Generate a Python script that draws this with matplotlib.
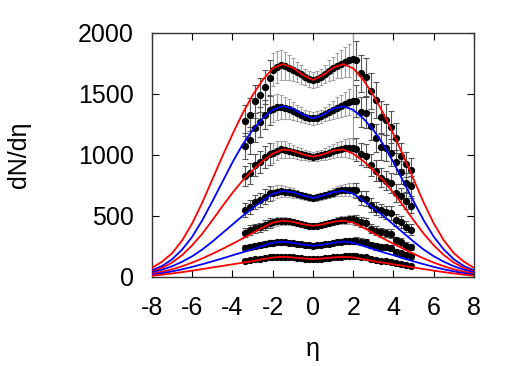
import numpy as np
import matplotlib
matplotlib.use("Agg")
import matplotlib.pyplot as plt

plt.rcParams["font.family"] = ["Liberation Sans", "DejaVu Sans"]
plt.rcParams["axes.unicode_minus"] = False

# model curves, eta -8..8 in steps of 0.5
eta_curve = [-8.0, -7.5, -7.0, -6.5, -6.0, -5.5, -5.0, -4.5, -4.0, -3.5, -3.0, -2.5, -2.0, -1.5, -1.0, -0.5,
             0.0, 0.5, 1.0, 1.5, 2.0, 2.5, 3.0, 3.5, 4.0, 4.5, 5.0, 5.5, 6.0, 6.5, 7.0, 7.5, 8.0]
curve_0_5 = [75, 125, 195, 300, 440, 610, 800, 990, 1170, 1340, 1490, 1615, 1710, 1745, 1715, 1655,
             1615, 1655, 1715, 1745, 1710, 1615, 1490, 1340, 1170, 990, 800, 610, 440, 300, 195, 125, 75]
curve_5_10 = [55, 90, 145, 225, 330, 465, 620, 780, 940, 1085, 1205, 1300, 1370, 1400, 1380, 1330,
              1300, 1330, 1380, 1400, 1370, 1300, 1205, 1085, 940, 780, 620, 465, 330, 225, 145, 90, 55]
curve_10_20 = [45, 75, 118, 180, 260, 355, 465, 580, 690, 790, 875, 950, 1010, 1045, 1035, 1005,
               985, 1005, 1035, 1045, 1010, 950, 875, 790, 690, 580, 465, 355, 260, 180, 118, 75, 45]
curve_20_30 = [38, 60, 88, 125, 170, 225, 290, 360, 430, 500, 565, 625, 682, 705, 695, 668,
               648, 668, 695, 705, 682, 625, 565, 500, 430, 360, 290, 225, 170, 125, 88, 60, 38]
curve_30_40 = [28, 43, 63, 88, 118, 152, 190, 230, 272, 315, 360, 405, 445, 462, 452, 432,
               420, 432, 452, 462, 445, 405, 360, 315, 272, 230, 190, 152, 118, 88, 63, 43, 28]
curve_40_50 = [20, 31, 46, 63, 83, 105, 128, 152, 178, 202, 228, 255, 280, 290, 280, 265,
               256, 265, 280, 290, 280, 255, 228, 202, 178, 152, 128, 105, 83, 63, 46, 31, 20]
curve_50_60 = [11, 19, 29, 40, 52, 65, 78, 91, 104, 117, 130, 146, 160, 166, 160, 152,
               147, 152, 160, 166, 160, 146, 130, 117, 104, 91, 78, 65, 52, 40, 29, 19, 11]
curves = [curve_0_5, curve_5_10, curve_10_20, curve_20_30, curve_30_40, curve_40_50, curve_50_60]
curve_colors = ["red", "blue", "red", "blue", "red", "blue", "red"]

# measured points
eta_left = [-3.375, -3.125, -2.875, -2.625, -2.375, -2.125]
eta_mid = [-2.0, -1.8, -1.6, -1.4, -1.2, -1.0, -0.8, -0.6, -0.4, -0.2, 0.0,
           0.2, 0.4, 0.6, 0.8, 1.0, 1.2, 1.4, 1.6, 1.8, 2.0]
eta_right = [2.125, 2.375, 2.625, 2.875, 3.125, 3.375, 3.625, 3.875, 4.125, 4.375, 4.625, 4.875]

left_vals = [
    [1280, 1330, 1440, 1490, 1560, 1630],
    [1070, 1120, 1225, 1270, 1330, 1365],
    [830, 850, 918, 945, 985, 1010],
    [549, 571, 617, 631, 658, 686],
    [363, 385, 399, 407, 426, 445],
    [235, 243, 254, 262, 270, 281],
    [134, 139, 145, 150, 156, 161],
]
mid_vals = [
    [1700, 1722, 1735, 1730, 1716, 1698, 1680, 1660, 1640, 1624, 1615, 1625, 1642, 1665, 1690, 1712, 1732, 1748, 1760, 1775, 1785],
    [1380, 1392, 1395, 1388, 1375, 1360, 1345, 1330, 1315, 1305, 1300, 1306, 1318, 1335, 1352, 1370, 1388, 1402, 1415, 1432, 1445],
    [1015, 1035, 1045, 1043, 1036, 1028, 1018, 1008, 998, 990, 987, 990, 998, 1008, 1020, 1032, 1042, 1050, 1055, 1057, 1055],
    [690, 698, 702, 700, 695, 688, 678, 668, 660, 652, 649, 652, 660, 668, 680, 692, 702, 710, 714, 716, 715],
    [448, 455, 460, 460, 456, 450, 442, 435, 428, 422, 420, 422, 428, 435, 444, 452, 460, 466, 470, 472, 472],
    [280, 284, 286, 285, 282, 278, 273, 268, 263, 259, 257, 259, 263, 268, 274, 280, 286, 290, 293, 296, 298],
    [160, 163, 165, 165, 163, 160, 157, 154, 151, 149, 148, 149, 151, 154, 158, 161, 164, 167, 169, 170, 170],
]
right_vals = [
    [1775, 1670, 1640, 1525, 1450, 1310, 1290, 1230, 1140, 990, 925, 875],
    [1443, 1355, 1345, 1238, 1140, 1068, 1055, 1020, 945, 860, 770, 745],
    [1045, 1010, 995, 918, 870, 815, 790, 770, 690, 660, 625, 585],
    [710, 650, 640, 590, 560, 545, 530, 525, 467, 450, 410, 388],
    [468, 450, 440, 395, 380, 368, 360, 355, 300, 285, 258, 245],
    [298, 290, 285, 262, 250, 245, 242, 240, 207, 195, 180, 168],
    [168, 163, 161, 145, 138, 132, 130, 126, 112, 105, 98, 90],
]

# relative uncertainties
rel_err_left = [0.10, 0.10, 0.095, 0.095, 0.09, 0.09]
rel_err_mid = [0.08, 0.075, 0.07, 0.065, 0.06, 0.055, 0.05, 0.045, 0.04, 0.04, 0.04,
               0.04, 0.04, 0.045, 0.05, 0.055, 0.06, 0.065, 0.07, 0.075, 0.08]
rel_err_right = [0.09, 0.09, 0.095, 0.095, 0.10, 0.10, 0.10, 0.105, 0.105, 0.11, 0.11, 0.11]
# the last central bin of the two most central classes has a much larger error
extra_err_eta2 = [280, 200, 0, 0, 0, 0, 0]

fig = plt.figure(figsize=(5.23, 3.66), dpi=100)
ax = fig.add_axes([0.2906, 0.2432, 0.6157, 0.6667])

for i in range(len(curves)):
    mid_err = np.array(mid_vals[i], dtype=float) * np.array(rel_err_mid)
    mid_err[-1] += extra_err_eta2[i]
    groups = [(eta_left, left_vals[i], np.array(left_vals[i]) * np.array(rel_err_left), "#555555", 2.2),
              (eta_mid, mid_vals[i], mid_err, "#a0a0a0", 1.5),
              (eta_right, right_vals[i], np.array(right_vals[i]) * np.array(rel_err_right), "#555555", 2.2)]
    for xs, vs, err, ecol, cap in groups:
        ax.errorbar(xs, vs, yerr=err, fmt="o", color="black", ms=4.2, ecolor=ecol,
                    elinewidth=0.8, capsize=cap, capthick=0.8, zorder=2)

for vals, col in zip(curves, curve_colors):
    ax.plot(eta_curve, vals, color=col, lw=1.3, zorder=3)

ax.set_xlim(-8, 8)
ax.set_ylim(0, 2000)
ax.set_xticks(range(-8, 9, 2))
ax.set_yticks(range(0, 2001, 500))
ax.tick_params(direction="in", length=5, width=0.8, top=True, right=True,
               labelsize=18, pad=13)
ax.tick_params(axis="x", pad=14)
for s in ax.spines.values():
    s.set_color("#333333")
    s.set_linewidth(1.0)
ax.set_xlabel("η", fontsize=18, labelpad=12)
ax.set_ylabel("dN/dη", fontsize=18, labelpad=34)

fig.savefig("out.png", dpi=100)
